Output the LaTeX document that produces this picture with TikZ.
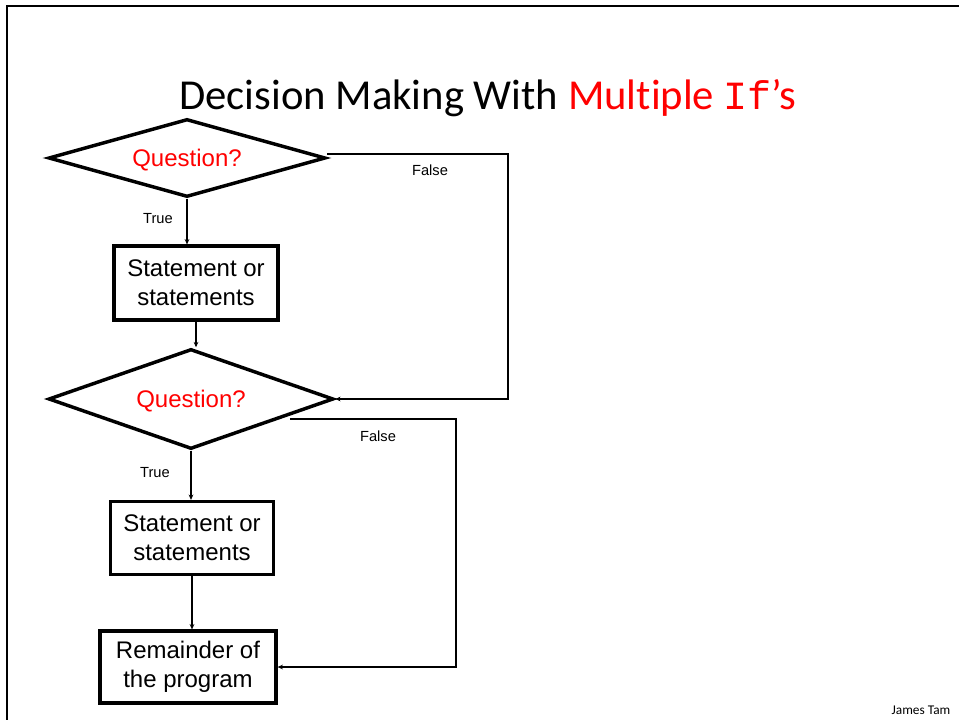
\documentclass[tikz,border=0pt]{standalone}
\usepackage{fontspec}
\setmainfont{Liberation Sans}
\newfontfamily\calibri[Ligatures=NoCommon]{Carlito}
\newfontfamily\consolas{Liberation Mono}
\usetikzlibrary{shapes.geometric,arrows.meta,calc}
\definecolor{pptred}{RGB}{255,0,0}
\begin{document}
\begin{tikzpicture}[x=0.75pt,y=-0.75pt,
  decision/.style={draw,diamond,line width=2.6pt,inner sep=0pt,text=pptred,text depth=0pt,font=\fontsize{18}{21}\selectfont},
  stmt/.style={draw,rectangle,line width=2.4pt,align=center,inner sep=0pt,font=\fontsize{18}{21.5}\selectfont},
  conn/.style={line width=1.6pt,-{Stealth[length=4pt,width=3.5pt]}},
  lbl/.style={font=\fontsize{11}{13}\selectfont}]
\useasboundingbox (0,0) rectangle (959,720);
% slide frame
\draw[line width=2pt] (7,720) -- (7,6) -- (959,6);
% title
\node[font=\calibri\fontsize{32}{38}\selectfont,anchor=base] (title) at (488,110)
  {Decision Making With \textcolor{pptred}{Multiple {\consolas\fontsize{30}{36}\selectfont If}’s}};
% nodes
\node[decision,aspect=3.55,minimum width=277*0.75pt,minimum height=78*0.75pt] (d1) at (187,158) {Question?};
\node[stmt,minimum width=164*0.75pt,minimum height=74*0.75pt] (s1) at (196,283) {Statement or\\statements};
\node[decision,aspect=2.85,minimum width=285*0.75pt,minimum height=100*0.75pt] (d2) at (191,399) {Question?};
\node[stmt,minimum width=163*0.75pt,minimum height=73*0.75pt] (s2) at (192,538) {Statement or\\statements};
\node[stmt,minimum width=176*0.75pt,minimum height=72*0.75pt] (s3) at (188,667) {Remainder of\\the program};
\coordinate (f1) at (508,154);
\coordinate (f2s) at (290,419);
\coordinate (f2) at (456,419);
% connectors
\draw[conn] (d1.south) -- (d1.south |- s1.north);
\draw[conn] (s1.south) -- (s1.south |- d2.north);
\draw[conn] (d2.south) -- (d2.south |- s2.north);
\draw[conn] (s2.south) -- (s2.south |- s3.north);
\draw[conn] ($(d1.east)+(0,-4)$) -- (f1) |- (d2.east);
\draw[conn] (f2s) -- (f2) |- (s3.east);
% labels
\node[lbl] (t1) at (158,219) {True};
\node[lbl] (fa1) at (430,170) {False};
\node[lbl] (t2) at (155,473) {True};
\node[lbl] (fa2) at (378,436) {False};
\node[font=\calibri\fontsize{10}{12}\selectfont] (author) at (921,710) {James Tam};
\end{tikzpicture}
\end{document}
